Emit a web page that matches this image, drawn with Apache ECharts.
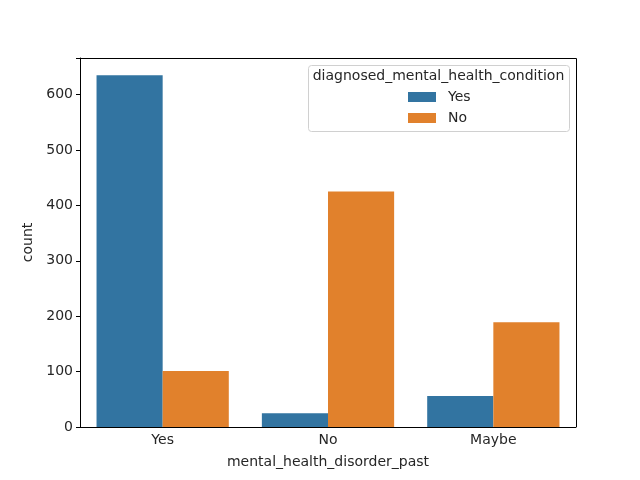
<!DOCTYPE html>
<html>
<head>
<meta charset="utf-8">
<script src="https://cdn.jsdelivr.net/npm/echarts@6/dist/echarts.min.js"></script>
<style>
  html, body { margin: 0; padding: 0; background: #fff; }
  #chart { width: 640px; height: 480px; }
</style>
</head>
<body>
<div id="chart"></div>
<script>
const categories = ['Yes', 'No', 'Maybe'];
const seriesNames = ['Yes', 'No'];
const diagnosedYes = [635, 25, 56];
const diagnosedNo = [101, 425, 189];
const yTicks = [0, 100, 200, 300, 400, 500, 600];

const font = 'DejaVu Sans';
const chart = echarts.init(document.getElementById('chart'));

chart.setOption({
  animation: false,
  color: ['#3274a1', '#e1812c'],
  textStyle: { fontFamily: font },
  grid: { left: 80, right: 64, top: 58, bottom: 53 },
  legend: {
    data: seriesNames,
    orient: 'vertical',
    left: 408,
    top: 90,
    padding: 0,
    itemWidth: 28,
    itemHeight: 10,
    itemGap: 7,
    icon: 'rect',
    textStyle: { fontFamily: font, fontSize: 14, color: '#262626', padding: [0, 0, 0, 7] },
  },
  // legend frame, title and the top/right spines
  graphic: [
    {
      type: 'rect',
      z: -1,
      shape: { x: 308.5, y: 65.5, width: 261, height: 66, r: 3 },
      style: { fill: 'rgba(255,255,255,0.8)', stroke: '#d0d0d0', lineWidth: 1 },
    },
    {
      type: 'text',
      x: 438.5,
      y: 76,
      style: {
        text: 'diagnosed_mental_health_condition',
        font: '14px "DejaVu Sans"',
        fill: '#262626',
        align: 'center',
        verticalAlign: 'middle',
      },
    },
    {
      type: 'polyline',
      shape: { points: [[80, 58.5], [576.5, 58.5], [576.5, 427]] },
      style: { stroke: '#000', lineWidth: 1, fill: null },
    },
  ],
  xAxis: {
    type: 'category',
    data: categories,
    name: 'mental_health_disorder_past',
    nameLocation: 'middle',
    nameGap: 28,
    nameTextStyle: { fontFamily: font, fontSize: 14, color: '#262626' },
    axisLine: { lineStyle: { color: '#000', width: 1 } },
    axisTick: { alignWithLabel: true, length: 4, lineStyle: { color: '#000' } },
    axisLabel: { fontSize: 14, color: '#262626', margin: 6 },
    splitLine: { show: false },
  },
  yAxis: {
    type: 'value',
    min: 0,
    max: 666,
    interval: 100,
    name: 'count',
    nameLocation: 'middle',
    nameGap: 43,
    nameTextStyle: { fontFamily: font, fontSize: 14, color: '#262626' },
    axisLine: { show: true, lineStyle: { color: '#000', width: 1 } },
    axisTick: { show: true, length: 4, lineStyle: { color: '#000' } },
    axisLabel: {
      fontSize: 14,
      color: '#262626',
      margin: 7,
      formatter: (v) => (yTicks.includes(v) ? String(v) : ''),
    },
    splitLine: { show: false },
  },
  series: [
    {
      name: seriesNames[0],
      type: 'bar',
      data: diagnosedYes,
      barGap: '0%',
      barCategoryGap: '20%',
    },
    {
      name: seriesNames[1],
      type: 'bar',
      data: diagnosedNo,
      barGap: '0%',
      barCategoryGap: '20%',
    },
  ],
});
</script>
</body>
</html>
